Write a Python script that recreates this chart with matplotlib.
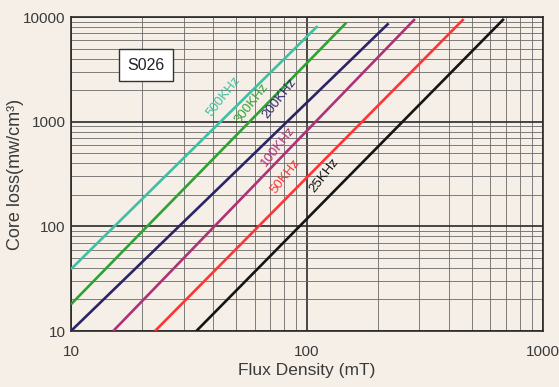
import matplotlib
matplotlib.use("Agg")
import matplotlib.pyplot as plt
from matplotlib.ticker import LogLocator, NullFormatter, FixedLocator, FixedFormatter

# curves: two end points each (straight on log-log)
freqs = ["500KHz", "300KHz", "200KHz", "100KHz", "50KHz", "25KHz"]
flux_start = [10, 10, 10, 15.1, 22.7, 34]
loss_start = [39, 18, 10, 10, 10, 10]
flux_end = [111, 147, 222, 287, 462, 684]
loss_end = [8200, 8830, 8700, 9560, 9560, 9600]
colors = ["#3fbfa4", "#2fa234", "#2b2466", "#ae3278", "#ff3434", "#151515"]

# label anchor points (flux, loss)
label_flux = [44.2, 58.2, 76.5, 75.8, 81.3, 119.0]
label_loss = [1740, 1500, 1670, 580, 300, 306]

x_ticks = [10, 100, 1000]
y_ticks = [10, 100, 1000, 10000]

bg = "#f5efe7"
text_col = "#3a3a3a"
plt.rcParams["font.family"] = ["Liberation Sans", "DejaVu Sans"]

fig = plt.figure(figsize=(5.59, 3.87), dpi=100, facecolor=bg)
ax = fig.add_axes([0.127, 0.1447, 0.844, 0.8113])
ax.set_facecolor(bg)
ax.set_xscale("log")
ax.set_yscale("log")
ax.set_xlim(10, 1000)
ax.set_ylim(10, 10000)

ax.xaxis.set_major_locator(FixedLocator(x_ticks))
ax.xaxis.set_major_formatter(FixedFormatter([str(v) for v in x_ticks]))
ax.yaxis.set_major_locator(FixedLocator(y_ticks))
ax.yaxis.set_major_formatter(FixedFormatter([str(v) for v in y_ticks]))
for axis in (ax.xaxis, ax.yaxis):
    axis.set_minor_locator(LogLocator(base=10, subs=range(2, 10)))
    axis.set_minor_formatter(NullFormatter())

ax.grid(which="major", color="#2a2a2a", linewidth=1.2)
ax.grid(which="minor", color="#6a6a6a", linewidth=0.6)
ax.tick_params(which="both", length=0, colors=text_col, labelsize=11)
ax.tick_params(axis="x", pad=10)
ax.tick_params(axis="y", pad=4)
for s in ax.spines.values():
    s.set_color("#2a2a2a")
    s.set_linewidth(1.2)

for i in range(len(freqs)):
    ax.plot([flux_start[i], flux_end[i]], [loss_start[i], loss_end[i]],
            color=colors[i], linewidth=1.9, solid_capstyle="butt", zorder=3)
    ax.text(label_flux[i], label_loss[i], freqs[i], color=colors[i],
            rotation=52, ha="center", va="center", fontsize=9.5, zorder=4)

ax.text(0.159, 0.847, "S026", transform=ax.transAxes, ha="center", va="center",
        fontsize=11.5, color="#222",
        bbox=dict(boxstyle="square,pad=0.55", facecolor="white", edgecolor="#333", linewidth=1))

ax.set_xlabel("Flux Density (mT)", fontsize=12.5, color=text_col, labelpad=3)
ax.set_ylabel("Core loss(mw/cm³)", fontsize=13, color=text_col, labelpad=-1)

fig.savefig("out.png", dpi=100, facecolor=bg)
